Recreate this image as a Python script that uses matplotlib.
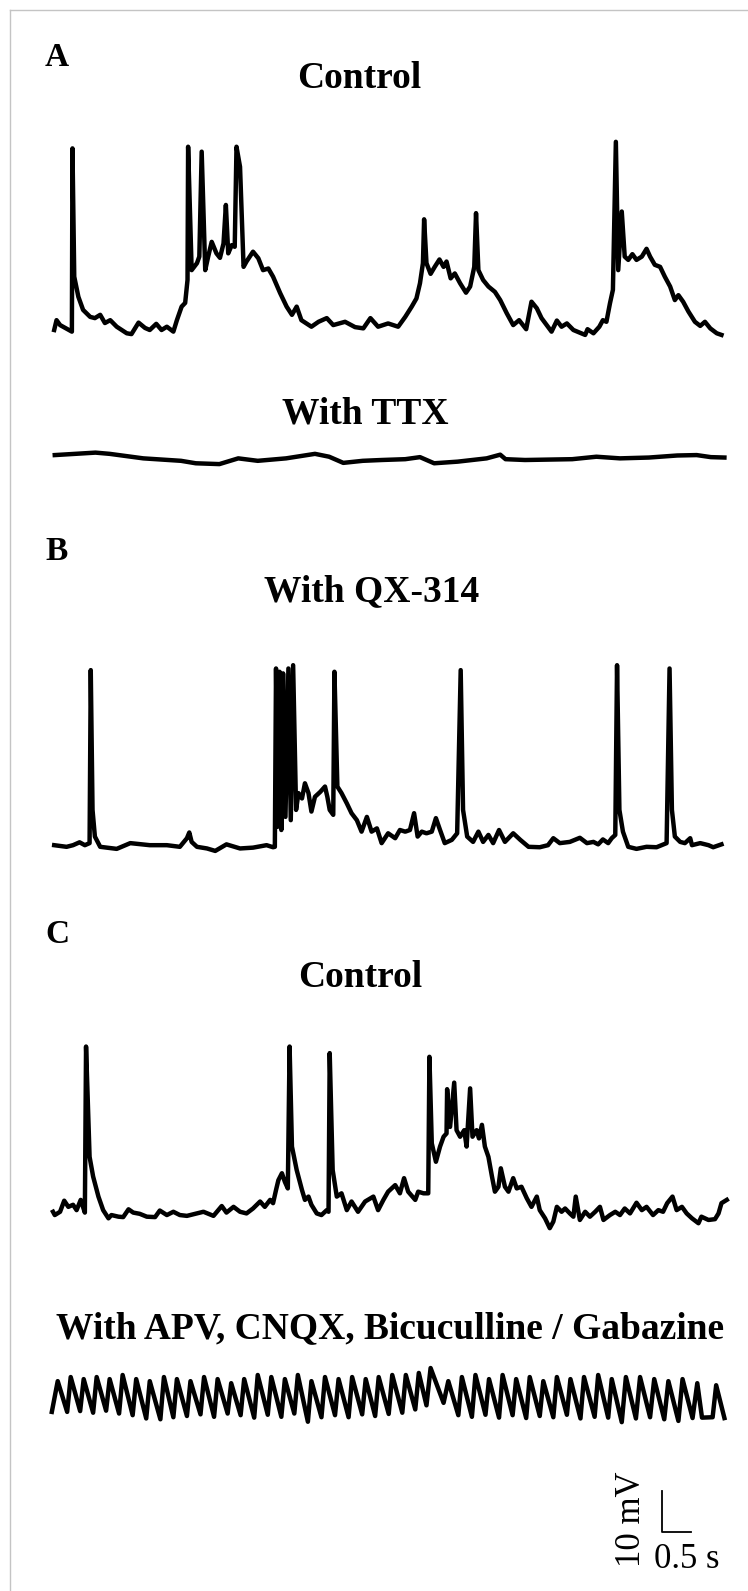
import matplotlib
matplotlib.use('Agg')
import matplotlib.pyplot as plt
from matplotlib.lines import Line2D

a_ctrl_t = [0.02, 0.06, 0.12, 0.32, 0.33, 0.36, 0.43, 0.51, 0.63, 0.71, 0.80, 0.88, 0.97, 1.08, 1.25, 1.33,
            1.45, 1.56, 1.64, 1.75, 1.84, 1.93, 2.04, 2.10, 2.18, 2.24, 2.28, 2.29, 2.35, 2.44, 2.48, 2.52,
            2.58, 2.63, 2.69, 2.77, 2.83, 2.89, 2.93, 2.97, 3.03, 3.08, 3.11, 3.17, 3.23, 3.28, 3.39, 3.48,
            3.56, 3.65, 3.73, 3.85, 3.96, 4.05, 4.13, 4.21, 4.38, 4.50, 4.64, 4.75, 4.95, 5.12, 5.26, 5.38,
            5.51, 5.68, 5.85, 5.97, 6.08, 6.16, 6.22, 6.27, 6.29, 6.33, 6.40, 6.47, 6.55, 6.62, 6.67, 6.74,
            6.81, 6.90, 7.00, 7.07, 7.14, 7.17, 7.21, 7.29, 7.38, 7.49, 7.58, 7.69, 7.80, 7.90, 8.02, 8.11,
            8.20, 8.28, 8.45, 8.54, 8.62, 8.71, 8.82, 9.02, 9.06, 9.16, 9.26, 9.32, 9.38, 9.44, 9.49, 9.54,
            9.58, 9.64, 9.69, 9.75, 9.82, 9.89, 9.98, 10.06, 10.12, 10.20, 10.29, 10.37, 10.46, 10.54,
            10.60, 10.68, 10.77, 10.88, 10.97, 11.05, 11.14, 11.25, 11.33]
a_ctrl_v = [0.0, 2.4, 1.2, -0.4, 44.3, 13.0, 8.1, 4.9, 3.2, 2.9, 3.7, 1.7, 2.4, 0.8, -0.8, -1.0,
            1.8, 0.5, 0.0, 1.5, 0.0, 0.8, -0.4, 2.4, 5.7, 6.6, 12.2, 44.7, 14.6, 16.3, 17.9, 43.5,
            14.6, 17.9, 21.5, 18.7, 17.6, 21.1, 30.5, 18.7, 20.7, 20.3, 44.7, 39.8, 15.4, 16.7, 19.1, 17.5,
            14.6, 15.0, 13.0, 9.0, 5.7, 3.7, 5.7, 2.4, 0.8, 2.0, 2.9, 1.2, 2.0, 0.7, 0.4, 2.9,
            0.8, 1.6, 0.8, 3.2, 5.7, 7.7, 11.4, 16.3, 27.0, 16.3, 13.7, 15.4, 17.2, 15.4, 16.7, 12.6,
            13.8, 11.4, 9.1, 10.6, 15.4, 28.5, 14.6, 12.2, 10.6, 9.3, 7.3, 4.1, 1.2, 2.4, 0.2, 6.9,
            5.3, 2.9, -0.4, 2.3, 0.8, 1.6, 0.0, -1.2, 0.2, -0.8, 0.8, 2.4, 2.0, 6.5, 9.8, 45.9,
            14.6, 28.9, 17.9, 17.1, 18.5, 17.1, 17.9, 19.8, 17.9, 15.9, 15.4, 13.0, 10.6, 7.3,
            8.5, 6.9, 4.5, 2.0, 1.0, 2.0, 0.4, -0.8, -1.2]

ttx_t = [0.03, 0.72, 0.96, 1.53, 2.17, 2.42, 2.82, 3.14, 3.47, 3.95, 4.44, 4.68, 4.92, 5.25, 5.57, 5.97,
         6.22, 6.46, 6.86, 7.35, 7.58, 7.67, 8.00, 8.80, 9.21, 9.61, 10.10, 10.58, 10.91, 11.15, 11.38]
ttx_v = [1.2, 1.8, 1.5, 0.4, -0.2, -0.8, -1.0, 0.4, -0.2, 0.4, 1.5, 0.8, -0.7, -0.2, 0.0, 0.2,
         0.7, -0.8, -0.4, 0.4, 1.3, 0.2, 0.0, 0.2, 0.8, 0.4, 0.6, 1.1, 1.2, 0.7, 0.6]

qx_t = [0.02, 0.23, 0.34, 0.45, 0.54, 0.62, 0.64, 0.67, 0.71, 0.80, 1.08, 1.31, 1.64, 1.93, 2.15, 2.27,
        2.31, 2.35, 2.44, 2.61, 2.75, 2.94, 3.17, 3.39, 3.62, 3.73, 3.76, 3.78, 3.81, 3.84, 3.87, 3.90,
        3.94, 3.99, 4.03, 4.07, 4.12, 4.16, 4.22, 4.27, 4.33, 4.38, 4.44, 4.53, 4.61, 4.65, 4.69, 4.75,
        4.77, 4.82, 4.89, 4.98, 5.06, 5.15, 5.23, 5.32, 5.40, 5.49, 5.57, 5.68, 5.80, 5.88, 5.97, 6.05,
        6.12, 6.18, 6.25, 6.33, 6.42, 6.49, 6.56, 6.64, 6.76, 6.85, 6.91, 6.95, 7.02, 7.12, 7.21, 7.29,
        7.38, 7.46, 7.56, 7.66, 7.80, 7.92, 8.06, 8.25, 8.39, 8.48, 8.59, 8.76, 8.93, 9.05, 9.16, 9.24,
        9.32, 9.41, 9.47, 9.53, 9.56, 9.60, 9.66, 9.75, 9.89, 10.06, 10.23, 10.40, 10.45, 10.49, 10.54,
        10.63, 10.71, 10.80, 10.83, 10.97, 11.11, 11.19, 11.33]
qx_v = [0.2, -0.2, 0.2, 0.9, 0.2, 0.7, 42.9, 8.8, 2.3, -0.2, -0.7, 0.7, 0.2, 0.2, -0.2, 1.9,
        3.3, 1.0, -0.2, -0.6, -1.2, 0.4, -0.6, -0.4, 0.2, -0.3, -0.2, 43.3, 4.7, 42.5, 3.9, 42.1,
        7.1, 43.3, 6.3, 44.1, 8.8, 12.9, 11.6, 15.3, 12.9, 8.4, 12.0, 13.2, 14.5, 12.0, 8.8, 7.6,
        42.5, 14.5, 12.9, 10.4, 8.0, 6.3, 3.5, 7.1, 3.5, 4.3, 0.7, 3.1, 1.9, 3.9, 3.5, 3.9,
        8.0, 2.3, 3.5, 3.1, 3.5, 6.8, 3.9, 0.7, 1.5, 3.1, 42.9, 8.8, 2.3, 1.0, 3.5, 1.0,
        2.7, 0.7, 3.9, 1.0, 3.1, 1.5, -0.2, -0.3, 0.2, 1.9, 0.7, 1.0, 2.0, 0.7, 1.0, 0.4,
        1.6, 0.7, 1.9, 2.7, 44.1, 8.8, 3.5, -0.2, -0.7, -0.2, -0.3, 0.7, 43.3, 8.8, 2.3,
        1.0, 0.7, 1.9, 0.2, 0.7, 0.2, -0.3, 0.4]

c_ctrl_t = [0.00, 0.03, 0.12, 0.19, 0.26, 0.34, 0.40, 0.47, 0.54, 0.56, 0.62, 0.68, 0.77, 0.85, 0.94, 0.99,
            1.11, 1.19, 1.28, 1.36, 1.47, 1.59, 1.73, 1.81, 1.93, 2.04, 2.15, 2.27, 2.44, 2.55, 2.72, 2.86,
            2.94, 3.06, 3.17, 3.28, 3.39, 3.51, 3.59, 3.68, 3.73, 3.78, 3.82, 3.88, 3.93, 3.98, 4.01, 4.05,
            4.13, 4.22, 4.27, 4.33, 4.38, 4.47, 4.55, 4.64, 4.67, 4.69, 4.74, 4.81, 4.89, 4.98, 5.06, 5.17,
            5.29, 5.43, 5.51, 5.60, 5.68, 5.80, 5.88, 5.95, 6.02, 6.14, 6.19, 6.28, 6.36, 6.38, 6.42, 6.49,
            6.56, 6.62, 6.67, 6.68, 6.73, 6.80, 6.84, 6.90, 6.97, 7.01, 7.07, 7.11, 7.18, 7.22, 7.27, 7.32,
            7.38, 7.44, 7.49, 7.55, 7.59, 7.66, 7.72, 7.80, 7.86, 7.94, 8.03, 8.11, 8.20, 8.25, 8.34, 8.42,
            8.48, 8.54, 8.62, 8.68, 8.76, 8.82, 8.86, 8.93, 9.02, 9.10, 9.19, 9.27, 9.33, 9.44, 9.53, 9.61,
            9.69, 9.78, 9.89, 9.98, 10.06, 10.17, 10.26, 10.34, 10.41, 10.50, 10.57, 10.66, 10.74, 10.83,
            10.94, 10.99, 11.11, 11.22, 11.28, 11.33, 11.42]
c_ctrl_v = [0.3, -0.5, 0.3, 3.0, 1.5, 2.0, 0.7, 3.2, 0.1, 40.6, 13.7, 8.9, 4.0, 0.7, -1.3, -0.5,
            -0.9, -1.0, 0.9, 0.1, -0.2, -0.9, -1.0, 0.6, -0.5, 0.3, -0.5, -0.7, -0.1, 0.3, -0.7, 1.7,
            0.1, 1.5, 0.3, -0.1, 1.1, 2.8, 1.5, 3.2, 2.4, 5.6, 8.0, 9.7, 7.6, 6.0, 40.6, 16.2,
            10.5, 5.6, 3.2, 4.0, 2.0, -0.1, -0.5, 0.7, 0.3, 39.0, 10.5, 4.0, 4.8, 0.7, 2.8, 0.3,
            2.8, 4.0, 0.7, 3.2, 5.2, 6.8, 4.8, 8.5, 5.2, 3.2, 5.2, 4.8, 4.8, 38.1, 17.0, 12.5,
            16.2, 18.6, 19.4, 30.2, 21.0, 31.8, 20.2, 18.6, 20.2, 16.2, 30.4, 18.6, 20.2, 18.2, 21.5, 16.2,
            13.7, 8.9, 5.2, 6.4, 10.9, 6.4, 5.2, 8.5, 6.0, 6.4, 3.6, 1.5, 4.0, 0.7, -1.3, -3.7,
            -2.1, 1.5, 0.3, 1.1, -0.1, -0.9, 4.0, -1.7, 0.3, -0.9, 0.3, 1.5, -1.7, -0.5, 0.3, -0.5,
            1.1, -0.1, 2.5, 0.7, 1.5, -0.5, 0.7, 0.3, 2.4, 4.0, 0.7, 1.5, -0.1, -1.3,
            -2.5, -0.9, -1.7, -1.5, -0.1, 2.4, 3.2]

# synaptic blockers: rhythmic oscillation, peaks and troughs
apv_peak_t = [0.08, 0.30, 0.52, 0.74, 0.96, 1.18, 1.41, 1.64, 1.88, 2.10, 2.33, 2.56, 2.79, 3.02, 3.24, 3.47,
              3.70, 3.93, 4.15, 4.38, 4.61, 4.84, 5.07, 5.30, 5.52, 5.75, 5.98, 6.20, 6.40, 6.70, 6.93, 7.16,
              7.39, 7.62, 7.85, 8.08, 8.31, 8.54, 8.77, 9.00, 9.24, 9.47, 9.71, 9.95, 10.19, 10.43, 10.67,
              10.92, 11.24]
apv_peak_v = [8.5, 9.5, 9.0, 9.5, 9.0, 10.0, 9.0, 8.5, 9.5, 9.0, 8.5, 9.5, 9.0, 8.0, 9.0, 10.0,
              9.5, 9.0, 10.0, 8.5, 9.5, 9.0, 9.5, 9.0, 9.5, 10.0, 10.0, 10.5, 11.7, 8.5, 9.5, 10.0,
              9.0, 10.0, 9.0, 9.5, 8.5, 9.5, 9.0, 9.5, 10.0, 9.0, 9.5, 9.5, 9.0, 8.5, 9.0,
              8.0, 7.5]
apv_trough_t = [-0.02, 0.24, 0.46, 0.68, 0.90, 1.12, 1.35, 1.58, 1.82, 2.04, 2.27, 2.50, 2.73, 2.96, 3.18, 3.41,
                3.64, 3.87, 4.09, 4.32, 4.55, 4.78, 5.01, 5.24, 5.46, 5.69, 5.92, 6.14, 6.33, 6.62, 6.87, 7.10,
                7.33, 7.56, 7.79, 8.02, 8.25, 8.48, 8.71, 8.94, 9.18, 9.41, 9.64, 9.88, 10.12, 10.36, 10.60,
                10.84, 11.00, 11.18, 11.38]
apv_trough_v = [1.0, 1.0, 1.2, 0.8, 1.3, 0.6, 0.2, -0.6, -0.8, -0.3, 0.0, 0.4, -0.2, 0.6, 0.2, -0.4,
                0.3, -0.2, 0.6, -1.4, -0.3, 0.2, -0.3, 0.4, 0.0, 0.5, 0.8, 1.6, 2.6, 3.2, 0.2, -0.2,
                0.3, -0.4, 0.2, -0.5, 0.0, -0.3, 0.3, -0.6, -0.2, -0.4, -1.5, -0.6, -0.3, -0.8, -1.2,
                -0.5, -0.4, -0.3, -0.5]

pts = sorted(zip(apv_peak_t + apv_trough_t, apv_peak_v + apv_trough_v))
apv_t = [p[0] for p in pts]
apv_v = [p[1] for p in pts]

W, H = 748, 1591
PX_PER_S = 59.0
PX_PER_MV = 4.1
X0, X1 = 53, 725
LW = 3.2
SERIF = 'Liberation Serif'

fig = plt.figure(figsize=(W / 100, H / 100), dpi=100)


def trace_axes(y_base, above=215, below=20):
    ax = fig.add_axes([X0 / W, 1 - (y_base + below) / H, (X1 - X0) / W, (above + below) / H])
    ax.set_xlim(0, (X1 - X0) / PX_PER_S)
    ax.set_ylim(-below / PX_PER_MV, above / PX_PER_MV)
    ax.axis('off')
    return ax


def label(x, y, s, size=27, ha='center', weight='bold'):
    fig.text(x / W, 1 - y / H, s, ha=ha, va='baseline', fontsize=size,
             fontfamily=SERIF, fontweight=weight)


ax = trace_axes(330)
ax.plot(a_ctrl_t, a_ctrl_v, color='k', lw=LW, clip_on=False, solid_joinstyle='round')
ax = trace_axes(460)
ax.plot(ttx_t, ttx_v, color='k', lw=LW, clip_on=False, solid_joinstyle='round')
ax = trace_axes(846)
ax.plot(qx_t, qx_v, color='k', lw=LW, clip_on=False, solid_joinstyle='round')
ax = trace_axes(1213)
ax.plot(c_ctrl_t, c_ctrl_v, color='k', lw=LW, clip_on=False, solid_joinstyle='round')
ax = trace_axes(1416)
ax.plot(apv_t, apv_v, color='k', lw=LW, clip_on=False, solid_joinstyle='round')

# scale bar: 0.5 s / 10 mV in the trace units
ax.plot([10.32, 10.32, 10.82], [-18.3, -28.3, -28.3], color='k', lw=1.3, clip_on=False)
ax.text(9.80, -25.3, '10 mV', rotation=90, ha='center', va='center', fontsize=25, fontfamily=SERIF)
ax.text(10.19, -37.1, '0.5 s', ha='left', va='baseline', fontsize=25, fontfamily=SERIF)

label(45, 66, 'A', size=24, ha='left')
label(45, 560, 'B', size=24, ha='left')
label(45, 943, 'C', size=24, ha='left')
label(359, 88, 'Control')
label(365, 423, 'With TTX')
label(372, 601, 'With QX-314')
label(360, 987, 'Control')
label(390, 1338, 'With APV, CNQX, Bicuculline / Gabazine')

# thin frame along the left and top edges
fig.add_artist(Line2D([10 / W, 10 / W], [0, 1 - 10 / H], transform=fig.transFigure, color='#c4c4c4', lw=1))
fig.add_artist(Line2D([10 / W, 1], [1 - 10 / H, 1 - 10 / H], transform=fig.transFigure, color='#c4c4c4', lw=1))

fig.savefig('out.png', dpi=100)
